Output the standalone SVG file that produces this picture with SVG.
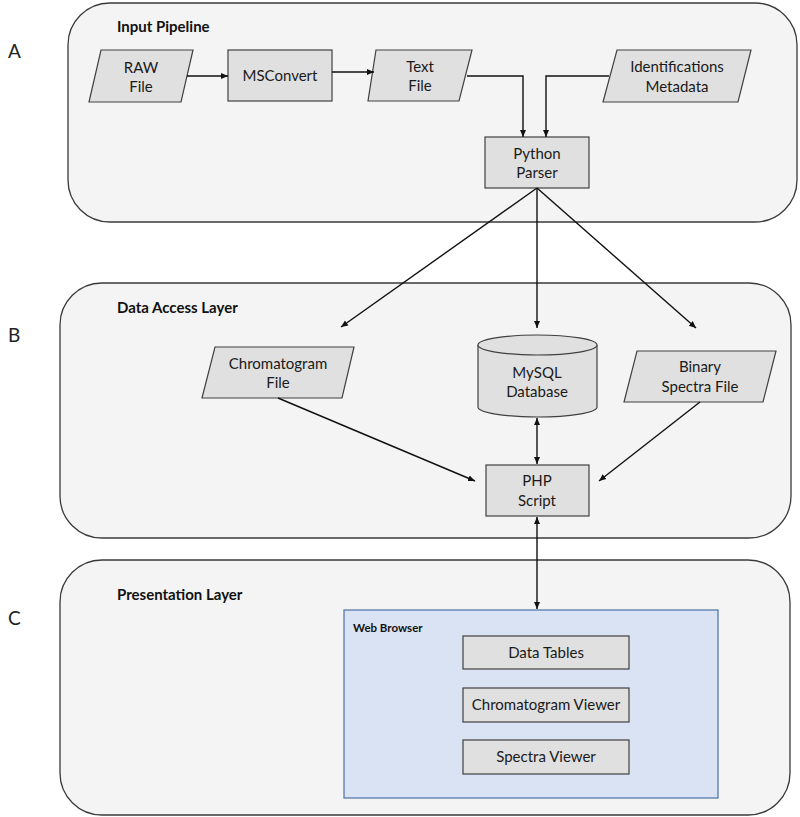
<svg xmlns="http://www.w3.org/2000/svg" width="800" height="817" viewBox="0 0 800 817">
<defs>
<style>
.panel{fill:#f4f4f4;stroke:#3a3a3a;stroke-width:1.3}
.node{fill:#e0e0e0;stroke:#404040;stroke-width:1.2}
.t{font-family:Lato,"Open Sans",sans-serif;font-size:15px;fill:#1a1a1a;text-anchor:middle}
.title{font-family:Lato,"Open Sans",sans-serif;font-size:15px;font-weight:bold;fill:#111}
.lab{font-family:Lato,"Open Sans",sans-serif;font-size:19px;fill:#222}
.c{fill:none;stroke:#111;stroke-width:1.4}
</style>
<marker id="ah" markerWidth="8" markerHeight="8" refX="7" refY="4" orient="auto" markerUnits="userSpaceOnUse">
<path d="M0,1 L7,4 L0,7 Z" fill="#111"/>
</marker>
<marker id="as" markerWidth="8" markerHeight="8" refX="0" refY="4" orient="auto" markerUnits="userSpaceOnUse">
<path d="M7,1 L0,4 L7,7 Z" fill="#111"/>
</marker>
</defs>

<g id="labels">
<text class="lab" x="8" y="58">A</text>
<text class="lab" x="8" y="342">B</text>
<text class="lab" x="8" y="625">C</text>
</g>

<g id="panelA">
<rect class="panel" x="68" y="3" width="729" height="219" rx="42"/>
<text class="title" x="117" y="32">Input Pipeline</text>
</g>
<g id="panelB">
<rect class="panel" x="60" y="283" width="731" height="255" rx="42"/>
<text class="title" x="117" y="313">Data Access Layer</text>
</g>
<g id="panelC">
<rect class="panel" x="60" y="560" width="730" height="255" rx="42"/>
<text class="title" x="117" y="600">Presentation Layer</text>
</g>

<g id="raw">
<polygon class="node" points="101,50 193,50 181,102 89,102"/>
<text class="t" x="141" y="73">RAW</text>
<text class="t" x="141" y="92">File</text>
</g>
<g id="msconvert">
<rect class="node" x="228" y="50" width="104" height="51"/>
<text class="t" x="280" y="81">MSConvert</text>
</g>
<g id="textfile">
<polygon class="node" points="376,50 472,50 459,101 368,101"/>
<text class="t" x="420" y="72">Text</text>
<text class="t" x="420" y="91">File</text>
</g>
<g id="ident">
<polygon class="node" points="617,50 751,50 738,102 603,102"/>
<text class="t" x="677" y="72">Identifications</text>
<text class="t" x="677" y="92">Metadata</text>
</g>
<g id="python">
<rect class="node" x="485" y="137" width="104" height="51"/>
<text class="t" x="537" y="159">Python</text>
<text class="t" x="537" y="178">Parser</text>
</g>
<g id="chromfile">
<polygon class="node" points="215,347 354,347 342,398 202,398"/>
<text class="t" x="278" y="369">Chromatogram</text>
<text class="t" x="278" y="388">File</text>
</g>
<g id="mysql">
<path class="node" d="M478,345 L478,407 A59.5,10 0 0 0 597,407 L597,345"/>
<ellipse class="node" cx="537.5" cy="345" rx="59.5" ry="10"/>
<text class="t" x="537" y="378">MySQL</text>
<text class="t" x="537" y="397">Database</text>
</g>
<g id="binary">
<polygon class="node" points="637,351 776,351 763,402 624,402"/>
<text class="t" x="700" y="372">Binary</text>
<text class="t" x="700" y="392">Spectra File</text>
</g>
<g id="php">
<rect class="node" x="486" y="465" width="103" height="51"/>
<text class="t" x="537" y="486">PHP</text>
<text class="t" x="537" y="506">Script</text>
</g>
<g id="webbrowser">
<rect x="344" y="610" width="374" height="188" fill="#dae3f3" stroke="#4a6fa5" stroke-width="1.2"/>
<text class="title" x="353" y="632" style="font-size:11.5px">Web Browser</text>
</g>
<g id="datatables">
<rect class="node" x="463" y="636" width="166" height="33"/>
<text class="t" x="546" y="658">Data Tables</text>
</g>
<g id="chromviewer">
<rect class="node" x="463" y="688" width="166" height="34"/>
<text class="t" x="546" y="710">Chromatogram Viewer</text>
</g>
<g id="specviewer">
<rect class="node" x="463" y="740" width="166" height="34"/>
<text class="t" x="546" y="762">Spectra Viewer</text>
</g>

<g id="connectors">
<line class="c" x1="187" y1="76" x2="228" y2="76" marker-end="url(#ah)"/>
<line class="c" x1="332" y1="72" x2="374" y2="72" marker-end="url(#ah)"/>
<polyline class="c" points="467,76 523,76 523,137" marker-end="url(#ah)"/>
<polyline class="c" points="609,76 546,76 546,137" marker-end="url(#ah)"/>
<line class="c" x1="537" y1="188" x2="341" y2="327" marker-end="url(#ah)"/>
<line class="c" x1="537" y1="188" x2="537" y2="328" marker-end="url(#ah)"/>
<line class="c" x1="537" y1="188" x2="696" y2="328" marker-end="url(#ah)"/>
<line class="c" x1="278" y1="398" x2="475" y2="481" marker-end="url(#ah)"/>
<line class="c" x1="700" y1="402" x2="599" y2="481" marker-end="url(#ah)"/>
<line class="c" x1="537" y1="418" x2="537" y2="464" marker-start="url(#as)" marker-end="url(#ah)"/>
<line class="c" x1="537" y1="517" x2="537" y2="609" marker-start="url(#as)" marker-end="url(#ah)"/>
</g>
</svg>
